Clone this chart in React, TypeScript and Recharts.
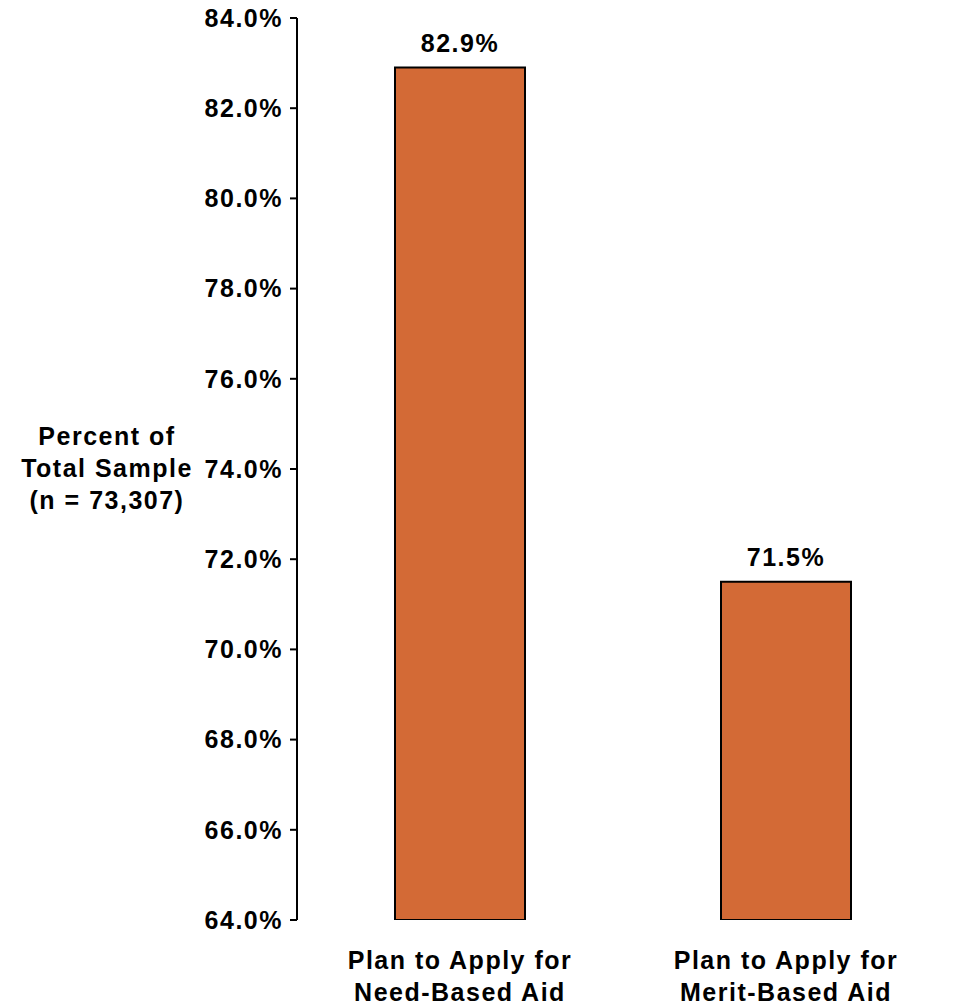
import React from "react";
import { BarChart, Bar, XAxis, YAxis, LabelList } from "recharts";

const categories = ["Plan to Apply for\nNeed-Based Aid", "Plan to Apply for\nMerit-Based Aid"];
const values = [82.9, 71.5];
const yTicks = [64, 66, 68, 70, 72, 74, 76, 78, 80, 82, 84];
const yLabelLines = ["Percent of", "Total Sample", "(n = 73,307)"];

const FONT = "'Liberation Sans', Arial, sans-serif";
const BAR_COLOR = "#D36A36";
const SPACING = 1.5;

const data = categories.map((name, i) => ({ name, value: values[i] }));

const CategoryTick = (props: any) => {
  const { x, y, payload } = props;
  const lines = String(payload.value).split("\n");
  return (
    <text
      x={x}
      y={y}
      textAnchor="middle"
      fontFamily={FONT}
      fontWeight="bold"
      fontSize={25}
      letterSpacing={SPACING}
      fill="#000"
    >
      {lines.map((l, i) => (
        <tspan key={i} x={x} dy={i === 0 ? 41 : 32}>
          {l}
        </tspan>
      ))}
    </text>
  );
};

const YLabel = () => (
  <text
    x={107}
    y={445}
    textAnchor="middle"
    fontFamily={FONT}
    fontWeight="bold"
    fontSize={25}
    letterSpacing={SPACING}
    fill="#000"
  >
    {yLabelLines.map((l, i) => (
      <tspan key={i} x={107} dy={i === 0 ? 0 : 32}>
        {l}
      </tspan>
    ))}
  </text>
);

export default function App() {
  return (
    <div style={{ position: "absolute", left: 0, top: 0, background: "#fff" }}>
      <BarChart
        width={957}
        height={1006}
        data={data}
        margin={{ top: 18, right: 8, bottom: 0, left: 0 }}
        barSize={130}
      >
        <XAxis
          xAxisId="edges"
          type="number"
          domain={[0, 2]}
          ticks={[0, 1, 2]}
          height={0}
          tickFormatter={() => ""}
          stroke="#000"
          strokeWidth={2}
          tickSize={8}
          tickLine={{ stroke: "#000", strokeWidth: 2 }}
        />
        <XAxis
          dataKey="name"
          height={86}
          axisLine={false}
          tickLine={false}
          tick={<CategoryTick />}
          interval={0}
        />
        <YAxis
          width={297}
          domain={[64, 84]}
          ticks={yTicks}
          allowDataOverflow
          tickFormatter={(v: number) => v.toFixed(1) + "%"}
          tick={{ fill: "#000", fontFamily: FONT, fontWeight: "bold", fontSize: 25, letterSpacing: SPACING }}
          stroke="#000"
          strokeWidth={2}
          tickSize={7}
          tickMargin={7}
          label={<YLabel />}
        />
        <Bar dataKey="value" fill={BAR_COLOR} stroke="#000" strokeWidth={2} isAnimationActive={false}>
          <LabelList
            dataKey="value"
            position="top"
            offset={16}
            formatter={(v: any) => Number(v).toFixed(1) + "%"}
            fill="#000"
            fontFamily={FONT}
            fontWeight="bold"
            fontSize={25}
            letterSpacing={SPACING}
          />
        </Bar>
      </BarChart>
    </div>
  );
}
